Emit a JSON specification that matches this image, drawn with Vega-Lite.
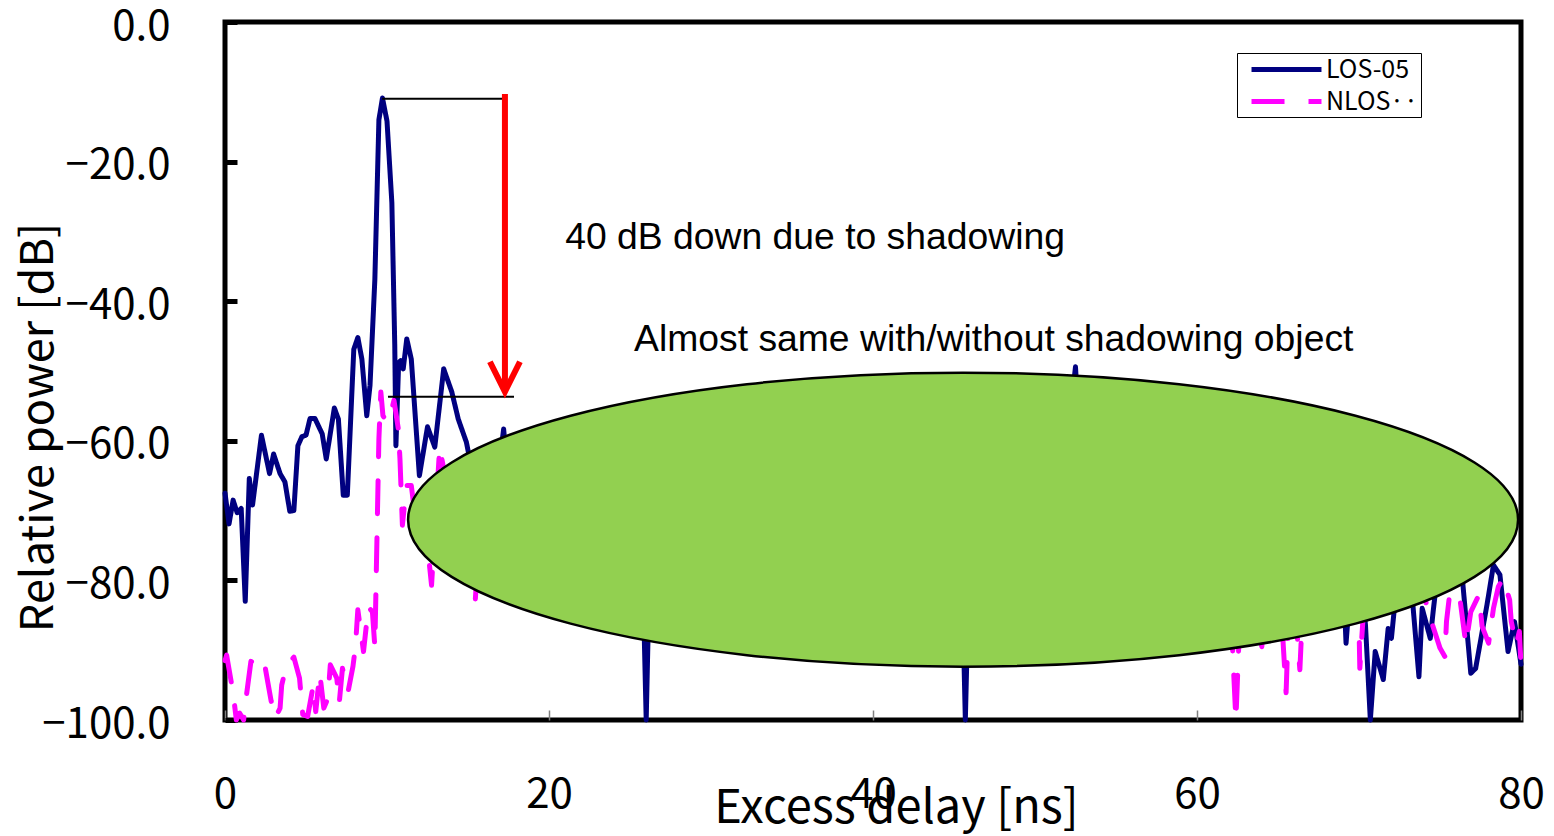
{
"$schema":"https://vega.github.io/schema/vega-lite/v6.json",
"autosize":{"type":"none"},
"padding":{"left":225,"top":22,"right":33,"bottom":116},
"width":1296,"height":698,
"background":"white",
"config":{"font":"Noto Sans CJK JP","view":{"stroke":"black","strokeWidth":5},
 "legend":{"fillColor":"white","strokeColor":"black","padding":2,"labelFont":"Noto Sans CJK JP","labelFontSize":25,"labelColor":"black","symbolType":"M -3 0 L 3 0","symbolSize":544,"symbolStrokeWidth":5,"symbolOffset":33,"labelOffset":25,"rowPadding":4}},
"datasets":{
"curves":[
{"s":"LOS-05","x":0,"y":-67.5},{"s":"LOS-05","x":0.25,"y":-71.9},{"s":"LOS-05","x":0.5,"y":-68.5},{"s":"LOS-05","x":0.75,"y":-70.3},{"s":"LOS-05","x":1,"y":-69.7},{"s":"LOS-05","x":1.25,"y":-83},{"s":"LOS-05","x":1.5,"y":-65.4},{"s":"LOS-05","x":1.7,"y":-69.2},{"s":"LOS-05","x":2.25,"y":-59.2},{"s":"LOS-05","x":2.75,"y":-64.7},{"s":"LOS-05","x":3,"y":-61.9},{"s":"LOS-05","x":3.4,"y":-64.7},{"s":"LOS-05","x":3.7,"y":-65.9},{"s":"LOS-05","x":4,"y":-70.1},{"s":"LOS-05","x":4.25,"y":-70},{"s":"LOS-05","x":4.5,"y":-60.7},{"s":"LOS-05","x":4.75,"y":-59.4},{"s":"LOS-05","x":5,"y":-59.2},{"s":"LOS-05","x":5.25,"y":-56.8},{"s":"LOS-05","x":5.55,"y":-56.8},{"s":"LOS-05","x":6,"y":-59},{"s":"LOS-05","x":6.25,"y":-62.6},{"s":"LOS-05","x":6.75,"y":-55.3},{"s":"LOS-05","x":7,"y":-56.9},{"s":"LOS-05","x":7.3,"y":-67.8},{"s":"LOS-05","x":7.55,"y":-67.8},{"s":"LOS-05","x":7.95,"y":-46.9},{"s":"LOS-05","x":8.2,"y":-45.2},{"s":"LOS-05","x":8.45,"y":-48.3},{"s":"LOS-05","x":8.75,"y":-56.4},{"s":"LOS-05","x":8.95,"y":-52.1},{"s":"LOS-05","x":9.25,"y":-36.9},{"s":"LOS-05","x":9.5,"y":-14},{"s":"LOS-05","x":9.72,"y":-10.9},{"s":"LOS-05","x":10,"y":-14.2},{"s":"LOS-05","x":10.3,"y":-25.9},{"s":"LOS-05","x":10.48,"y":-46.4},{"s":"LOS-05","x":10.55,"y":-60.7},{"s":"LOS-05","x":10.72,"y":-48.8},{"s":"LOS-05","x":10.85,"y":-48.5},{"s":"LOS-05","x":11,"y":-49.7},{"s":"LOS-05","x":11.22,"y":-45.4},{"s":"LOS-05","x":11.5,"y":-48.3},{"s":"LOS-05","x":12,"y":-65},{"s":"LOS-05","x":12.5,"y":-58},{"s":"LOS-05","x":12.95,"y":-60.9},{"s":"LOS-05","x":13.5,"y":-49.7},{"s":"LOS-05","x":14,"y":-53},{"s":"LOS-05","x":14.4,"y":-56.9},{"s":"LOS-05","x":14.9,"y":-60.2},{"s":"LOS-05","x":15.4,"y":-66},{"s":"LOS-05","x":15.9,"y":-63},{"s":"LOS-05","x":16.4,"y":-70},{"s":"LOS-05","x":16.9,"y":-64},{"s":"LOS-05","x":17.2,"y":-58.3},{"s":"LOS-05","x":17.5,"y":-66},{"s":"LOS-05","x":18,"y":-71},{"s":"LOS-05","x":18.5,"y":-65},{"s":"LOS-05","x":19,"y":-74},{"s":"LOS-05","x":19.5,"y":-68},{"s":"LOS-05","x":20,"y":-63},{"s":"LOS-05","x":20.5,"y":-72},{"s":"LOS-05","x":21,"y":-67},{"s":"LOS-05","x":21.5,"y":-76},{"s":"LOS-05","x":22,"y":-69},{"s":"LOS-05","x":22.5,"y":-64},{"s":"LOS-05","x":23,"y":-73},{"s":"LOS-05","x":23.5,"y":-70},{"s":"LOS-05","x":24,"y":-78},{"s":"LOS-05","x":24.5,"y":-68},{"s":"LOS-05","x":25,"y":-74},{"s":"LOS-05","x":25.5,"y":-71},{"s":"LOS-05","x":25.8,"y":-80},{"s":"LOS-05","x":26,"y":-100},{"s":"LOS-05","x":26.2,"y":-79},{"s":"LOS-05","x":26.5,"y":-72},{"s":"LOS-05","x":27,"y":-67},{"s":"LOS-05","x":27.5,"y":-75},{"s":"LOS-05","x":28,"y":-70},{"s":"LOS-05","x":28.5,"y":-79},{"s":"LOS-05","x":29,"y":-72},{"s":"LOS-05","x":29.5,"y":-66},{"s":"LOS-05","x":30,"y":-74},{"s":"LOS-05","x":30.5,"y":-70},{"s":"LOS-05","x":31,"y":-81},{"s":"LOS-05","x":31.5,"y":-73},{"s":"LOS-05","x":32,"y":-68},{"s":"LOS-05","x":32.5,"y":-77},{"s":"LOS-05","x":33,"y":-71},{"s":"LOS-05","x":33.5,"y":-82},{"s":"LOS-05","x":34,"y":-74},{"s":"LOS-05","x":34.5,"y":-69},{"s":"LOS-05","x":35,"y":-78},{"s":"LOS-05","x":35.5,"y":-72},{"s":"LOS-05","x":36,"y":-84},{"s":"LOS-05","x":36.5,"y":-75},{"s":"LOS-05","x":37,"y":-70},{"s":"LOS-05","x":37.5,"y":-79},{"s":"LOS-05","x":38,"y":-73},{"s":"LOS-05","x":38.5,"y":-68},{"s":"LOS-05","x":39,"y":-77},{"s":"LOS-05","x":39.5,"y":-72},{"s":"LOS-05","x":40,"y":-81},{"s":"LOS-05","x":40.5,"y":-74},{"s":"LOS-05","x":41,"y":-69},{"s":"LOS-05","x":41.5,"y":-78},{"s":"LOS-05","x":42,"y":-72},{"s":"LOS-05","x":42.5,"y":-83},{"s":"LOS-05","x":43,"y":-75},{"s":"LOS-05","x":43.5,"y":-70},{"s":"LOS-05","x":44,"y":-79},{"s":"LOS-05","x":44.5,"y":-73},{"s":"LOS-05","x":45,"y":-82},{"s":"LOS-05","x":45.5,"y":-80},{"s":"LOS-05","x":45.7,"y":-100},{"s":"LOS-05","x":45.9,"y":-81},{"s":"LOS-05","x":46.5,"y":-74},{"s":"LOS-05","x":47,"y":-69},{"s":"LOS-05","x":47.5,"y":-77},{"s":"LOS-05","x":48,"y":-71},{"s":"LOS-05","x":48.5,"y":-80},{"s":"LOS-05","x":49,"y":-73},{"s":"LOS-05","x":49.5,"y":-67},{"s":"LOS-05","x":50,"y":-75},{"s":"LOS-05","x":50.5,"y":-70},{"s":"LOS-05","x":51,"y":-78},{"s":"LOS-05","x":51.5,"y":-66},{"s":"LOS-05","x":52,"y":-60},{"s":"LOS-05","x":52.5,"y":-49.4},{"s":"LOS-05","x":52.8,"y":-62},{"s":"LOS-05","x":53.2,"y":-72},{"s":"LOS-05","x":53.5,"y":-68},{"s":"LOS-05","x":54,"y":-76},{"s":"LOS-05","x":54.5,"y":-70},{"s":"LOS-05","x":55,"y":-81},{"s":"LOS-05","x":55.5,"y":-74},{"s":"LOS-05","x":56,"y":-69},{"s":"LOS-05","x":56.5,"y":-78},{"s":"LOS-05","x":57,"y":-72},{"s":"LOS-05","x":57.5,"y":-84},{"s":"LOS-05","x":58,"y":-75},{"s":"LOS-05","x":58.5,"y":-70},{"s":"LOS-05","x":59,"y":-79},{"s":"LOS-05","x":59.5,"y":-73},{"s":"LOS-05","x":60,"y":-72},{"s":"LOS-05","x":60.5,"y":-68},{"s":"LOS-05","x":61,"y":-75},{"s":"LOS-05","x":61.5,"y":-70},{"s":"LOS-05","x":62,"y":-78},{"s":"LOS-05","x":62.5,"y":-73},{"s":"LOS-05","x":63,"y":-80},{"s":"LOS-05","x":63.5,"y":-76},{"s":"LOS-05","x":64,"y":-71},{"s":"LOS-05","x":64.5,"y":-82},{"s":"LOS-05","x":65,"y":-77},{"s":"LOS-05","x":65.5,"y":-74},{"s":"LOS-05","x":66,"y":-84},{"s":"LOS-05","x":66.5,"y":-79},{"s":"LOS-05","x":67,"y":-73},{"s":"LOS-05","x":67.5,"y":-81},{"s":"LOS-05","x":68,"y":-76},{"s":"LOS-05","x":68.5,"y":-84},{"s":"LOS-05","x":69,"y":-78},{"s":"LOS-05","x":69.2,"y":-89},{"s":"LOS-05","x":69.5,"y":-80},{"s":"LOS-05","x":70,"y":-77},{"s":"LOS-05","x":70.4,"y":-86.4},{"s":"LOS-05","x":70.7,"y":-100},{"s":"LOS-05","x":71,"y":-90.2},{"s":"LOS-05","x":71.5,"y":-94.2},{"s":"LOS-05","x":71.8,"y":-86.9},{"s":"LOS-05","x":72,"y":-88.3},{"s":"LOS-05","x":72.4,"y":-79},{"s":"LOS-05","x":72.8,"y":-83},{"s":"LOS-05","x":73.2,"y":-80},{"s":"LOS-05","x":73.7,"y":-93.8},{"s":"LOS-05","x":73.9,"y":-84},{"s":"LOS-05","x":74.4,"y":-88.3},{"s":"LOS-05","x":74.6,"y":-84},{"s":"LOS-05","x":75,"y":-76},{"s":"LOS-05","x":75.5,"y":-79},{"s":"LOS-05","x":76,"y":-75},{"s":"LOS-05","x":76.4,"y":-80.2},{"s":"LOS-05","x":76.9,"y":-93.3},{"s":"LOS-05","x":77.2,"y":-92.6},{"s":"LOS-05","x":77.9,"y":-83.5},{"s":"LOS-05","x":78.3,"y":-77.8},{"s":"LOS-05","x":78.7,"y":-79.2},{"s":"LOS-05","x":79.2,"y":-90.2},{"s":"LOS-05","x":79.6,"y":-85.9},{"s":"LOS-05","x":80,"y":-92},
{"s":"NLOS··","x":0,"y":-91.5},{"s":"NLOS··","x":0.1,"y":-90.7},{"s":"NLOS··","x":0.5,"y":-96.1},{"s":"NLOS··","x":0.7,"y":-100},{"s":"NLOS··","x":0.9,"y":-99},{"s":"NLOS··","x":1.15,"y":-100},{"s":"NLOS··","x":1.3,"y":-96.9},{"s":"NLOS··","x":1.6,"y":-91.6},{"s":"NLOS··","x":2.05,"y":-92.1},{"s":"NLOS··","x":2.4,"y":-91.4},{"s":"NLOS··","x":2.65,"y":-94.7},{"s":"NLOS··","x":2.85,"y":-97.3},{"s":"NLOS··","x":3.1,"y":-99.7},{"s":"NLOS··","x":3.4,"y":-98.3},{"s":"NLOS··","x":3.5,"y":-95},{"s":"NLOS··","x":3.8,"y":-92.1},{"s":"NLOS··","x":4.25,"y":-91},{"s":"NLOS··","x":4.6,"y":-94},{"s":"NLOS··","x":4.8,"y":-99.2},{"s":"NLOS··","x":5.1,"y":-99.5},{"s":"NLOS··","x":5.45,"y":-95},{"s":"NLOS··","x":5.6,"y":-98.8},{"s":"NLOS··","x":5.85,"y":-93.3},{"s":"NLOS··","x":6.1,"y":-98.3},{"s":"NLOS··","x":6.35,"y":-96.9},{"s":"NLOS··","x":6.5,"y":-92.1},{"s":"NLOS··","x":6.9,"y":-94},{"s":"NLOS··","x":7.05,"y":-97.6},{"s":"NLOS··","x":7.25,"y":-92.6},{"s":"NLOS··","x":7.6,"y":-95.9},{"s":"NLOS··","x":7.9,"y":-92.3},{"s":"NLOS··","x":8.05,"y":-89.5},{"s":"NLOS··","x":8.2,"y":-84.2},{"s":"NLOS··","x":8.55,"y":-90.2},{"s":"NLOS··","x":8.85,"y":-83.8},{"s":"NLOS··","x":9.1,"y":-84.5},{"s":"NLOS··","x":9.25,"y":-89.5},{"s":"NLOS··","x":9.5,"y":-59.7},{"s":"NLOS··","x":9.62,"y":-53},{"s":"NLOS··","x":9.75,"y":-56.4},{"s":"NLOS··","x":10,"y":-57.3},{"s":"NLOS··","x":10.2,"y":-56.4},{"s":"NLOS··","x":10.43,"y":-54.2},{"s":"NLOS··","x":10.7,"y":-58.3},{"s":"NLOS··","x":10.8,"y":-62.6},{"s":"NLOS··","x":10.95,"y":-72.1},{"s":"NLOS··","x":11.2,"y":-66.4},{"s":"NLOS··","x":11.5,"y":-66.4},{"s":"NLOS··","x":11.8,"y":-72},{"s":"NLOS··","x":12.1,"y":-70},{"s":"NLOS··","x":12.45,"y":-74},{"s":"NLOS··","x":12.75,"y":-80.7},{"s":"NLOS··","x":13.25,"y":-60.9},{"s":"NLOS··","x":13.5,"y":-64},{"s":"NLOS··","x":13.9,"y":-70},{"s":"NLOS··","x":14.3,"y":-74},{"s":"NLOS··","x":14.7,"y":-68},{"s":"NLOS··","x":15.1,"y":-72},{"s":"NLOS··","x":15.45,"y":-82.8},{"s":"NLOS··","x":15.8,"y":-70},{"s":"NLOS··","x":16.2,"y":-74},{"s":"NLOS··","x":16.6,"y":-68},{"s":"NLOS··","x":17,"y":-72},{"s":"NLOS··","x":17.5,"y":-84.3},{"s":"NLOS··","x":17.9,"y":-71},{"s":"NLOS··","x":18.4,"y":-66},{"s":"NLOS··","x":18.9,"y":-74},{"s":"NLOS··","x":19.4,"y":-69},{"s":"NLOS··","x":19.9,"y":-78},{"s":"NLOS··","x":20.4,"y":-71},{"s":"NLOS··","x":20.9,"y":-65},{"s":"NLOS··","x":21.4,"y":-75},{"s":"NLOS··","x":21.9,"y":-70},{"s":"NLOS··","x":22.4,"y":-80},{"s":"NLOS··","x":22.9,"y":-73},{"s":"NLOS··","x":23.4,"y":-67},{"s":"NLOS··","x":23.9,"y":-76},{"s":"NLOS··","x":24.4,"y":-71},{"s":"NLOS··","x":24.9,"y":-82},{"s":"NLOS··","x":25.4,"y":-74},{"s":"NLOS··","x":25.9,"y":-69},{"s":"NLOS··","x":26.4,"y":-78},{"s":"NLOS··","x":26.9,"y":-72},{"s":"NLOS··","x":27.4,"y":-84},{"s":"NLOS··","x":27.9,"y":-75},{"s":"NLOS··","x":28.4,"y":-70},{"s":"NLOS··","x":28.9,"y":-79},{"s":"NLOS··","x":29.4,"y":-73},{"s":"NLOS··","x":29.9,"y":-68},{"s":"NLOS··","x":30.4,"y":-77},{"s":"NLOS··","x":30.9,"y":-72},{"s":"NLOS··","x":31.4,"y":-85},{"s":"NLOS··","x":31.9,"y":-76},{"s":"NLOS··","x":32.4,"y":-70},{"s":"NLOS··","x":32.9,"y":-80},{"s":"NLOS··","x":33.4,"y":-74},{"s":"NLOS··","x":33.9,"y":-69},{"s":"NLOS··","x":34.4,"y":-78},{"s":"NLOS··","x":34.9,"y":-72},{"s":"NLOS··","x":35.4,"y":-86},{"s":"NLOS··","x":35.9,"y":-77},{"s":"NLOS··","x":36.4,"y":-71},{"s":"NLOS··","x":36.9,"y":-81},{"s":"NLOS··","x":37.4,"y":-75},{"s":"NLOS··","x":37.9,"y":-70},{"s":"NLOS··","x":38.4,"y":-79},{"s":"NLOS··","x":38.9,"y":-73},{"s":"NLOS··","x":39.4,"y":-84},{"s":"NLOS··","x":39.9,"y":-76},{"s":"NLOS··","x":40.4,"y":-71},{"s":"NLOS··","x":40.9,"y":-80},{"s":"NLOS··","x":41.4,"y":-74},{"s":"NLOS··","x":41.9,"y":-69},{"s":"NLOS··","x":42.4,"y":-78},{"s":"NLOS··","x":42.9,"y":-72},{"s":"NLOS··","x":43.4,"y":-85},{"s":"NLOS··","x":43.9,"y":-77},{"s":"NLOS··","x":44.4,"y":-71},{"s":"NLOS··","x":44.9,"y":-81},{"s":"NLOS··","x":45.4,"y":-75},{"s":"NLOS··","x":45.9,"y":-70},{"s":"NLOS··","x":46.4,"y":-79},{"s":"NLOS··","x":46.9,"y":-73},{"s":"NLOS··","x":47.4,"y":-86},{"s":"NLOS··","x":47.9,"y":-76},{"s":"NLOS··","x":48.4,"y":-70},{"s":"NLOS··","x":48.9,"y":-80},{"s":"NLOS··","x":49.4,"y":-74},{"s":"NLOS··","x":49.9,"y":-68},{"s":"NLOS··","x":50.4,"y":-77},{"s":"NLOS··","x":50.9,"y":-72},{"s":"NLOS··","x":51.4,"y":-83},{"s":"NLOS··","x":51.9,"y":-75},{"s":"NLOS··","x":52.4,"y":-69},{"s":"NLOS··","x":52.9,"y":-78},{"s":"NLOS··","x":53.4,"y":-72},{"s":"NLOS··","x":53.9,"y":-84},{"s":"NLOS··","x":54.4,"y":-76},{"s":"NLOS··","x":54.9,"y":-70},{"s":"NLOS··","x":55.4,"y":-80},{"s":"NLOS··","x":55.9,"y":-74},{"s":"NLOS··","x":56.4,"y":-86},{"s":"NLOS··","x":56.9,"y":-77},{"s":"NLOS··","x":57.4,"y":-71},{"s":"NLOS··","x":57.9,"y":-81},{"s":"NLOS··","x":58.4,"y":-75},{"s":"NLOS··","x":58.9,"y":-70},{"s":"NLOS··","x":59.4,"y":-79},{"s":"NLOS··","x":59.9,"y":-73},{"s":"NLOS··","x":60.4,"y":-84},{"s":"NLOS··","x":60.9,"y":-76},{"s":"NLOS··","x":61.4,"y":-71},{"s":"NLOS··","x":61.9,"y":-80},{"s":"NLOS··","x":62.2,"y":-90},{"s":"NLOS··","x":62.4,"y":-100},{"s":"NLOS··","x":62.6,"y":-88},{"s":"NLOS··","x":63,"y":-76},{"s":"NLOS··","x":63.5,"y":-82},{"s":"NLOS··","x":64,"y":-89.5},{"s":"NLOS··","x":64.4,"y":-78},{"s":"NLOS··","x":64.9,"y":-74},{"s":"NLOS··","x":65.3,"y":-88.3},{"s":"NLOS··","x":65.5,"y":-96.1},{"s":"NLOS··","x":65.7,"y":-82},{"s":"NLOS··","x":66.2,"y":-88.3},{"s":"NLOS··","x":66.35,"y":-92.8},{"s":"NLOS··","x":66.6,"y":-80},{"s":"NLOS··","x":67.1,"y":-75},{"s":"NLOS··","x":67.6,"y":-84},{"s":"NLOS··","x":68.1,"y":-78},{"s":"NLOS··","x":68.6,"y":-73},{"s":"NLOS··","x":69.1,"y":-82},{"s":"NLOS··","x":69.6,"y":-77},{"s":"NLOS··","x":70,"y":-86.4},{"s":"NLOS··","x":70.05,"y":-92.6},{"s":"NLOS··","x":70.4,"y":-80},{"s":"NLOS··","x":70.9,"y":-76},{"s":"NLOS··","x":71.4,"y":-83},{"s":"NLOS··","x":71.9,"y":-78},{"s":"NLOS··","x":72.4,"y":-74},{"s":"NLOS··","x":72.9,"y":-84.7},{"s":"NLOS··","x":73.2,"y":-80},{"s":"NLOS··","x":73.6,"y":-77},{"s":"NLOS··","x":74,"y":-82},{"s":"NLOS··","x":74.4,"y":-85.4},{"s":"NLOS··","x":75,"y":-89.7},{"s":"NLOS··","x":75.3,"y":-90.9},{"s":"NLOS··","x":75.4,"y":-85.9},{"s":"NLOS··","x":75.6,"y":-81.9},{"s":"NLOS··","x":76.2,"y":-82.1},{"s":"NLOS··","x":76.6,"y":-89.2},{"s":"NLOS··","x":76.9,"y":-84.5},{"s":"NLOS··","x":77.4,"y":-82.1},{"s":"NLOS··","x":77.6,"y":-86.6},{"s":"NLOS··","x":78,"y":-89},{"s":"NLOS··","x":78.3,"y":-84},{"s":"NLOS··","x":78.6,"y":-80.9},{"s":"NLOS··","x":78.9,"y":-79.7},{"s":"NLOS··","x":79.3,"y":-82.8},{"s":"NLOS··","x":79.4,"y":-85.9},{"s":"NLOS··","x":79.7,"y":-89.2},{"s":"NLOS··","x":79.9,"y":-87.3},{"s":"NLOS··","x":80,"y":-92.1}
],
"hlines":[{"x":9.7,"x2":17.28,"y":-11.0},{"x":10.06,"x2":17.84,"y":-53.7}],
"arrow":[{"x":17.28,"y":-10.3,"y2":-52.97}],
"ellipse":[{"x":45.56,"y":-71.3}],
"notes":[{"x":21.0,"y":-30.9,"text":"40 dB down due to shadowing"},{"x":25.25,"y":-45.6,"text":"Almost same with/without shadowing object"}]
},
"layer":[
{"data":{"name":"curves"},
 "mark":{"type":"line","strokeWidth":5,"strokeCap":"round","strokeJoin":"round"},
 "encoding":{
  "x":{"field":"x","type":"quantitative","scale":{"domain":[0,80],"nice":false},
   "axis":{"values":[0,20,40,60,80],"format":"d","grid":false,"domain":false,"tickSize":-10,"tickColor":"#808080","tickWidth":1.5,"labelPadding":64,"labelFont":"Noto Sans CJK JP","labelFontSize":42,"labelColor":"black","labelFlush":false,"labelOverlap":false,
    "title":"Excess delay [ns]","titleFont":"Noto Sans CJK JP","titleFontSize":47,"titleFontWeight":"normal","titleColor":"black","titleX":671,"titleY":88,"titleAlign":"center","titleBaseline":"middle"}},
  "y":{"field":"y","type":"quantitative","scale":{"domain":[-100,0],"nice":false},
   "axis":{"values":[-100,-80,-60,-40,-20,0],"format":".1f","grid":false,"domain":false,"tickSize":-12,"tickColor":"black","tickWidth":5,"labelPadding":67,"labelFont":"Noto Sans CJK JP","labelFontSize":42,"labelColor":"black","labelFlush":false,"labelOverlap":false,"labelOffset":4,
    "title":"Relative power [dB]","titleFont":"Noto Sans CJK JP","titleFontSize":45,"titleFontWeight":"normal","titleColor":"black","titleX":-187,"titleY":405,"titleAngle":-90,"titleAlign":"center","titleBaseline":"middle"}},
  "color":{"field":"s","type":"nominal","scale":{"domain":["LOS-05","NLOS··"],"range":["#000080","#FF00FF"]},"legend":{"title":null,"orient":"none","legendX":1012,"legendY":31}},
  "strokeDash":{"field":"s","type":"nominal","scale":{"domain":["LOS-05","NLOS··"],"range":[[1,0],[33,24]]},"legend":{"title":null,"orient":"none","legendX":1012,"legendY":31}}
 }},
{"data":{"name":"hlines"},"mark":{"type":"rule","color":"black","strokeWidth":2},
 "encoding":{"x":{"field":"x","type":"quantitative"},"x2":{"field":"x2"},"y":{"field":"y","type":"quantitative"}}},
{"data":{"name":"ellipse"},"mark":{"type":"point","shape":"M -1 0 A 1 0.2649 0 1 0 1 0 A 1 0.2649 0 1 0 -1 0 Z","size":1232100,"filled":true,"fill":"#92D050","stroke":"black","strokeWidth":2.5,"opacity":1,"fillOpacity":1,"strokeOpacity":1},
 "encoding":{"x":{"field":"x","type":"quantitative"},"y":{"field":"y","type":"quantitative"}}},
{"data":{"name":"arrow"},"mark":{"type":"rule","color":"#FF0000","strokeWidth":6},
 "encoding":{"x":{"field":"x","type":"quantitative"},"y":{"field":"y","type":"quantitative"},"y2":{"field":"y2"}}},
{"data":{"name":"arrow"},"mark":{"type":"point","shape":"M -1 -2 L 0 0 L 1 -2","size":900,"filled":false,"stroke":"#FF0000","strokeWidth":6,"opacity":1,"strokeJoin":"miter"},
 "encoding":{"x":{"field":"x","type":"quantitative"},"y":{"field":"y2","type":"quantitative"}}},
{"data":{"name":"notes"},"mark":{"type":"text","font":"Liberation Sans","fontSize":37.3,"align":"left","baseline":"middle","color":"black"},
 "encoding":{"x":{"field":"x","type":"quantitative"},"y":{"field":"y","type":"quantitative"},"text":{"field":"text"}}}
]
}
